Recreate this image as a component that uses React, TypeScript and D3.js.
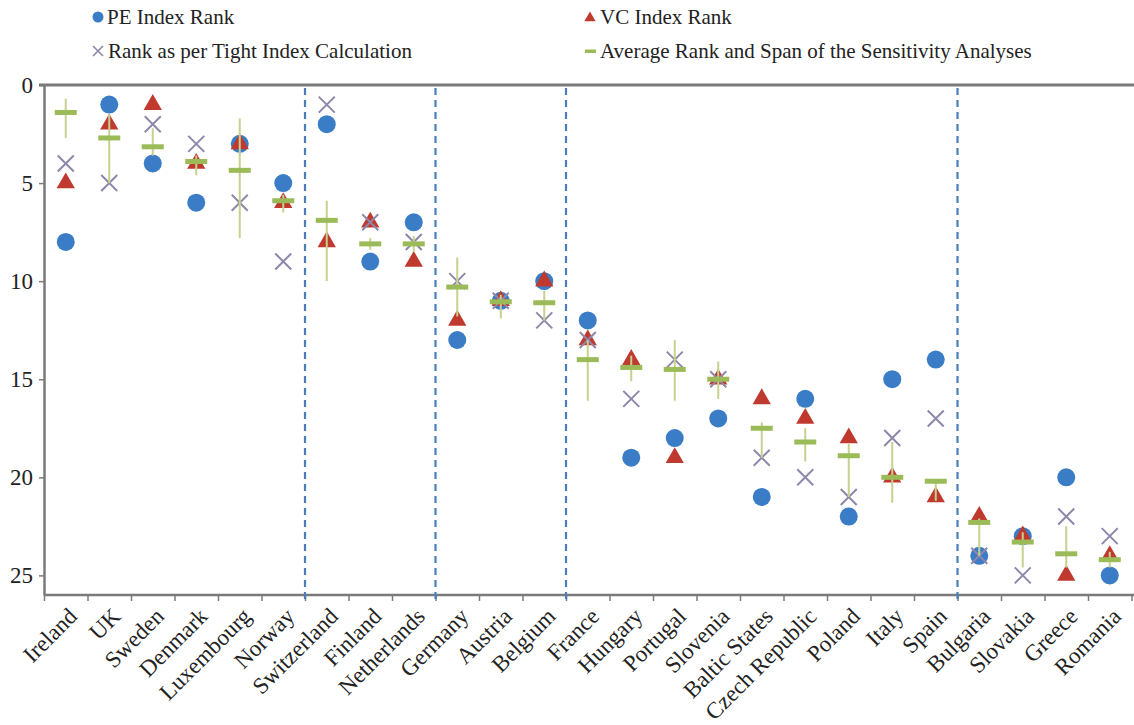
import { useEffect, useRef } from "react";
import * as d3 from "d3";

// countries, in the order shown on the x axis
const countries = [
  "Ireland", "UK", "Sweden", "Denmark", "Luxembourg", "Norway",
  "Switzerland", "Finland", "Netherlands",
  "Germany", "Austria", "Belgium",
  "France", "Hungary", "Portugal", "Slovenia", "Baltic States", "Czech Republic", "Poland", "Italy", "Spain",
  "Bulgaria", "Slovakia", "Greece", "Romania",
];
// last country of each cluster (dashed separators after them)
const groupEnds = ["Norway", "Netherlands", "Belgium", "Spain"];

const peRank = [8, 1, 4, 6, 3, 5, 2, 9, 7, 13, 11, 10, 12, 19, 18, 17, 21, 16, 22, 15, 14, 24, 23, 20, 25];
const vcRank = [5, 2, 1, 4, 3, 6, 8, 7, 9, 12, 11, 10, 13, 14, 19, 15, 16, 17, 18, 20, 21, 22, 23, 25, 24];
const tightRank = [4, 5, 2, 3, 6, 9, 1, 7, 8, 10, 11, 12, 13, 16, 14, 15, 19, 20, 21, 18, 17, 24, 25, 22, 23];
const avgRank = [1.4, 2.7, 3.15, 3.9, 4.35, 5.9, 6.9, 8.1, 8.1, 10.3, 11.05, 11.1, 14, 14.4, 14.5, 15, 17.5, 18.2, 18.9, 20, 20.2, 22.3, 23.3, 23.9, 24.2];
const spanLow = [0.7, 1.5, 2.2, 3.6, 1.7, 5.6, 5.9, 7.8, 7.7, 8.8, 10.7, 10.5, 13, 13.8, 13, 14.1, 17.2, 17.5, 18.3, 18.2, 20.1, 22.1, 22.8, 22.5, 23.8];
const spanHigh = [2.7, 5, 3.6, 4.6, 7.8, 6.5, 10, 8.4, 8.5, 11.8, 11.9, 12, 16.1, 15.1, 16.1, 16, 19, 19.2, 21, 21.3, 21.2, 24, 24.6, 24.6, 24.6];

const yTicks = [0, 5, 10, 15, 20, 25];

const BLUE = "#3a7cc6";
const RED = "#c0392e";
const PURPLE = "#8e86ab";
const GREEN = "#9bbb59";
const WHISKER = "#c5d28e";
const AXIS = "#7a7a7a";
const FONT = "Liberation Serif, serif";

export default function App() {
  const ref = useRef<SVGSVGElement>(null);

  useEffect(() => {
    const svg = d3.select(ref.current);
    svg.selectAll("*").remove();

    const left = 44, right = 1131.5, top = 85, bottom = 595;

    const x = d3.scaleBand<string>().domain(countries).range([left, right]);
    const xi = d3.scaleLinear().domain([0, countries.length]).range([left, right]);
    const y = d3.scaleLinear().domain([0, 26]).range([top, bottom]);
    const cx = (i: number) => (x(countries[i]) as number) + x.bandwidth() / 2;

    // top line (value 0)
    svg.append("line")
      .attr("x1", left - 5).attr("x2", 1134)
      .attr("y1", y(0)).attr("y2", y(0))
      .attr("stroke", AXIS).attr("stroke-width", 3);

    // y axis
    const ya = svg.append("g")
      .attr("transform", `translate(${left},0)`)
      .call(d3.axisLeft(y).tickValues(yTicks).tickSize(5).tickSizeOuter(0).tickPadding(6));
    ya.select(".domain").attr("stroke", AXIS).attr("stroke-width", 2.5);
    ya.selectAll(".tick line").attr("stroke", AXIS).attr("stroke-width", 1.5);
    ya.selectAll(".tick text")
      .style("font-family", FONT).style("font-size", "23px").attr("fill", "#222");

    // x axis with ticks at band boundaries
    const xa = svg.append("g")
      .attr("transform", `translate(0,${bottom})`)
      .call(d3.axisBottom(xi).tickValues(d3.range(countries.length + 1)).tickSize(6).tickSizeOuter(0).tickFormat(() => ""));
    xa.select(".domain").attr("stroke", AXIS).attr("stroke-width", 2.5).attr("d", `M${left},0H1134`);
    xa.selectAll(".tick line").attr("stroke", AXIS).attr("stroke-width", 1.5);

    // country labels
    svg.append("g")
      .selectAll("text")
      .data(countries)
      .join("text")
      .attr("transform", (_, i) => `translate(${cx(i) + 7},${bottom + 17}) rotate(-45)`)
      .attr("text-anchor", "end")
      .attr("dy", "0.35em")
      .style("font-family", FONT).style("font-size", "23px").attr("fill", "#222")
      .text((d) => d);

    // dashed cluster separators
    svg.append("g")
      .selectAll("line")
      .data(groupEnds)
      .join("line")
      .attr("x1", (d) => (x(d) as number) + x.bandwidth())
      .attr("x2", (d) => (x(d) as number) + x.bandwidth())
      .attr("y1", top + 3).attr("y2", bottom + 4)
      .attr("stroke", "#4a7ebb").attr("stroke-width", 2.2)
      .attr("stroke-dasharray", "7,5");

    const idx = d3.range(countries.length);

    // PE circles
    svg.append("g").selectAll("circle").data(idx).join("circle")
      .attr("cx", (i) => cx(i)).attr("cy", (i) => y(peRank[i]))
      .attr("r", 9).attr("fill", BLUE);

    // VC triangles
    const tri = d3.symbol(d3.symbolTriangle, 145);
    svg.append("g").selectAll("path").data(idx).join("path")
      .attr("transform", (i) => `translate(${cx(i)},${y(vcRank[i])})`)
      .attr("d", tri()).attr("fill", RED);

    // tight index crosses
    svg.append("g").selectAll("path").data(idx).join("path")
      .attr("transform", (i) => `translate(${cx(i)},${y(tightRank[i])})`)
      .attr("d", "M-8,-8L8,8M8,-8L-8,8")
      .attr("fill", "none").attr("stroke", PURPLE).attr("stroke-width", 2);

    // sensitivity span
    svg.append("g").selectAll("line").data(idx).join("line")
      .attr("x1", (i) => cx(i)).attr("x2", (i) => cx(i))
      .attr("y1", (i) => y(spanLow[i])).attr("y2", (i) => y(spanHigh[i]))
      .attr("stroke", WHISKER).attr("stroke-width", 2);

    // average rank dashes
    svg.append("g").selectAll("rect").data(idx).join("rect")
      .attr("x", (i) => cx(i) - 11).attr("y", (i) => y(avgRank[i]) - 2.5)
      .attr("width", 22).attr("height", 5).attr("fill", GREEN);

    // legend
    const lg = svg.append("g");
    const legendText = (tx: number, ty: number, s: string) =>
      lg.append("text").attr("x", tx).attr("y", ty)
        .style("font-family", FONT).style("font-size", "21px").attr("fill", "#222").text(s);
    lg.append("circle").attr("cx", 98).attr("cy", 17).attr("r", 5.5).attr("fill", BLUE);
    legendText(107, 24, "PE Index Rank");
    lg.append("path").attr("transform", "translate(590,18)")
      .attr("d", d3.symbol(d3.symbolTriangle, 55)()).attr("fill", RED);
    legendText(600, 24, "VC Index Rank");
    lg.append("path").attr("transform", "translate(98,51)")
      .attr("d", "M-5,-5L5,5M5,-5L-5,5").attr("stroke", PURPLE).attr("stroke-width", 1.6);
    legendText(108, 58, "Rank as per Tight Index Calculation");
    lg.append("rect").attr("x", 585).attr("y", 49.5).attr("width", 11).attr("height", 3.5).attr("fill", GREEN);
    legendText(600, 58, "Average Rank and Span of the Sensitivity Analyses");
  }, []);

  return (
    <svg
      ref={ref}
      width={1134}
      height={725}
      style={{ position: "absolute", left: 0, top: 0, background: "#fff" }}
    />
  );
}
